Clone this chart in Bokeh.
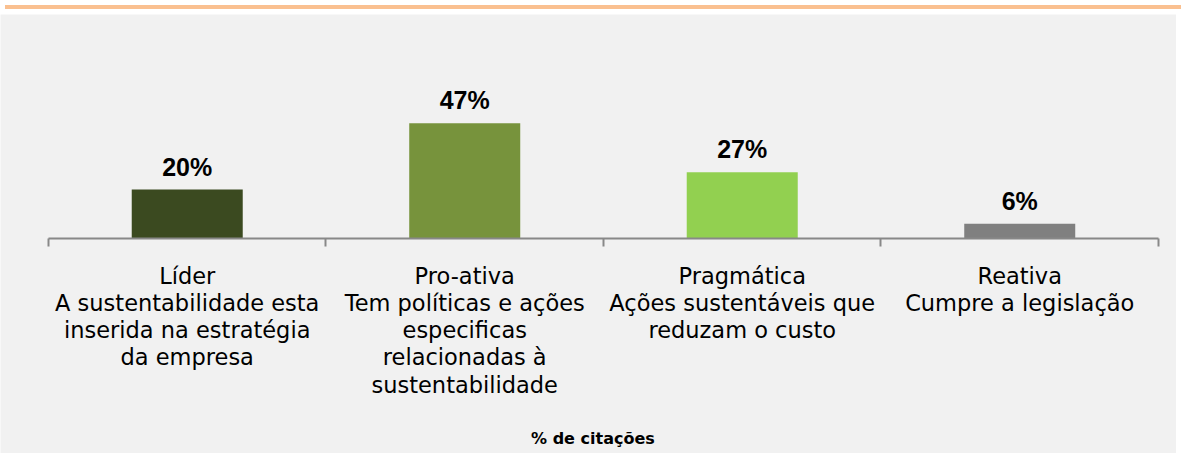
from bokeh.plotting import figure
from bokeh.models import ColumnDataSource, Range1d, LinearAxis, FixedTicker, Label, Div
from bokeh.layouts import column
from bokeh.core.properties import value
from bokeh.embed import file_html
from bokeh.resources import INLINE

# ---- data ----
categories = [
    "Líder\nA sustentabilidade esta\ninserida na estratégia\nda empresa",
    "Pro-ativa\nTem políticas e ações\nespecificas\nrelacionadas à\nsustentabilidade",
    "Pragmática\nAções sustentáveis que\nreduzam o custo",
    "Reativa\nCumpre a legislação",
]
values = [20, 47, 27, 6]
colors = ["#3b4a20", "#77933c", "#92d050", "#808080"]
axis_title = "% de citações"

xs = [i + 0.5 for i in range(len(categories))]
src = ColumnDataSource(dict(
    x=xs,
    value=values,
    color=colors,
    label=[f"{v}%" for v in values],
    cat=categories,
    zero=[0] * len(values),
))

BG = "#f1f1f1"

p = figure(
    width=1176, height=439,
    x_range=Range1d(-0.1729, 4.0649),
    y_range=Range1d(-87.75, 91.43),
    min_border=0,
    toolbar_location=None,
    output_backend="svg",
    x_axis_type=None, y_axis_type=None,
    background_fill_color=BG,
    border_fill_color=BG,
    outline_line_color=None,
)

p.vbar(x="x", top="value", bottom=0, width=0.4, fill_color="color",
       line_color=None, source=src)

# value labels
p.text(x="x", y="value", text="label", source=src,
       text_align="center", text_baseline="middle", y_offset=-23,
       text_font=value("Liberation Sans"), text_font_style="bold",
       text_font_size="25px", text_color="#000000")

# category labels
p.text(x="x", y="zero", text="cat", source=src,
       text_align="center", text_baseline="top", y_offset=24,
       text_font=value("DejaVu Sans"), text_font_size="22.5px",
       text_line_height=1.05, text_color="#000000")

# category axis with boundary ticks
ax = LinearAxis(
    fixed_location=0,
    bounds=(0, len(categories)),
    ticker=FixedTicker(ticks=list(range(len(categories) + 1))),
    axis_line_color="#888888", axis_line_width=2,
    major_tick_line_color="#888888", major_tick_line_width=2,
    major_tick_in=0, major_tick_out=8,
    minor_tick_line_color=None,
    major_label_text_font_size="0px",
    major_label_text_color=None,
)
p.add_layout(ax, "below")

p.add_layout(Label(x=1.962, y=-81.6, text=axis_title,
                   text_align="center", text_baseline="middle",
                   text_font="DejaVu Sans", text_font_style="bold",
                   text_font_size="16px", text_color="#000000"))

band = Div(
    text="", width=1176, height=4,
    styles={"background": "#fac090"},
)

layout = column(band, p, spacing=0)

open("out.html", "w").write(file_html(layout, INLINE))
